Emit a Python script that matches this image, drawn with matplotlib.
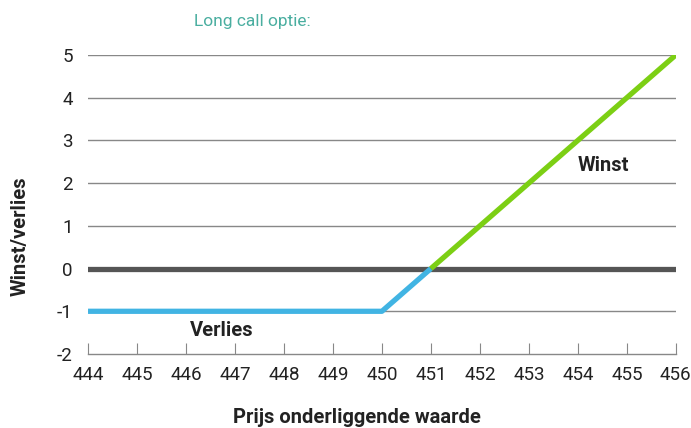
import matplotlib
matplotlib.use("Agg")
import matplotlib.pyplot as plt

plt.rcParams["font.family"] = ["Roboto", "DejaVu Sans"]
plt.rcParams["axes.unicode_minus"] = False

# data
price_loss = [444, 450, 451]
pl_loss = [-1, -1, 0]
price_win = [451, 456]
pl_win = [0, 5]
x_ticks = list(range(444, 457))
y_ticks = list(range(-2, 6))

fig = plt.figure(figsize=(6.91, 4.28), dpi=100)
ax = fig.add_axes([0.1274, 0.1729, 0.8506, 0.6986])

for y in y_ticks[1:]:
    if y != 0:
        ax.axhline(y, color="#888888", lw=1.0, zorder=1)
ax.axhline(0, color="#555555", lw=3.8, zorder=2)

ax.plot(price_loss, pl_loss, color="#41b4e3", lw=3.8, solid_capstyle="butt", zorder=3)
ax.plot(price_win, pl_win, color="#7ccf14", lw=3.8, solid_capstyle="butt", zorder=3)

ax.text(454.53, 2.42, "Winst", ha="center", va="center", fontsize=14.5,
        fontweight="bold", color="#222222")
ax.text(446.73, -1.45, "Verlies", ha="center", va="center", fontsize=14.5,
        fontweight="bold", color="#222222")

ax.set_xlim(444, 456)
ax.set_ylim(-2, 5)
ax.set_xticks(x_ticks)
ax.set_yticks(y_ticks)
ax.tick_params(axis="x", direction="in", length=8, color="#888888", pad=9,
               labelsize=13.5, labelcolor="#222222")
ax.tick_params(axis="y", length=0, pad=11, labelsize=13.5, labelcolor="#222222")
for s in ["top", "right", "left"]:
    ax.spines[s].set_visible(False)
ax.spines["bottom"].set_color("#888888")
ax.spines["bottom"].set_linewidth(1.0)

fig.text(0.517, 0.011, "Prijs onderliggende waarde", ha="center", va="baseline",
         fontsize=14.5, fontweight="bold", color="#222222")
fig.text(0.029, 0.449, "Winst/verlies", ha="center", va="center", rotation=90,
         fontsize=14.5, fontweight="bold", color="#222222")
fig.text(0.365, 0.95, "Long call optie:", ha="center", va="center",
         fontsize=12.5, color="#4aaea0")

fig.savefig("out.png", dpi=100)
